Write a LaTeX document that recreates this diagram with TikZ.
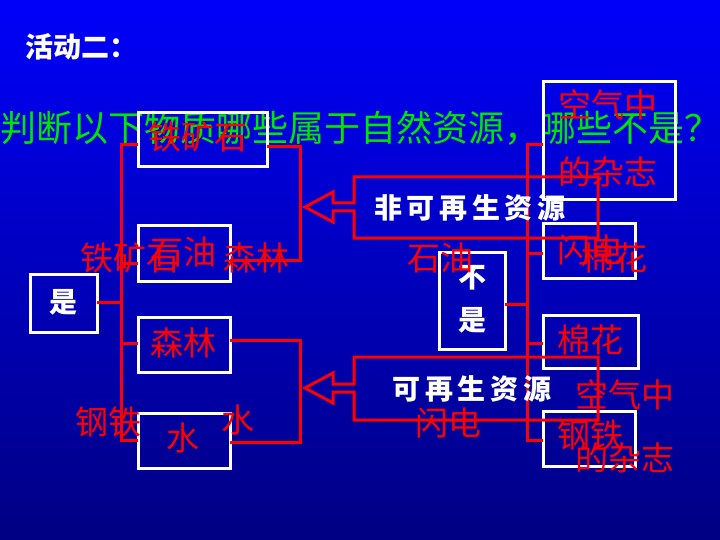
\documentclass[tikz,border=0pt]{standalone}
\usepackage{fontspec}
\newfontfamily\cjk{Noto Sans CJK SC}
\begin{document}
\begin{tikzpicture}[x=1pt,y=-1pt,
  wbox/.style={draw=white,line width=3pt},
  rl/.style={draw=red,line width=3pt},
  rt/.style={text=red,font=\cjk\fontsize{33}{33}\selectfont,inner sep=0pt},
  wt/.style={text=white,font=\cjk\bfseries\fontsize{28}{28}\selectfont,inner sep=0pt}]
\shade[top color={rgb,255:red,0;green,0;blue,250},bottom color={rgb,255:red,0;green,0;blue,130}] (0,0) rectangle (720,540);
\useasboundingbox (0,0) rectangle (720,540);
\node[wt,anchor=west] (title) at (25,47) {活动二：};
\node[text={rgb,255:red,0;green,230;blue,0},font=\cjk\fontsize{36}{36}\selectfont,inner sep=0pt] (q) at (360,128) {判断以下物质哪些属于自然资源，哪些不是？};
% left boxes
\draw[wbox] (30,274) rectangle (97,332);
\node[wt] (shi) at (63,302) {是};
\draw[wbox] (138,113) rectangle (267,167);
\draw[wbox] (138,226) rectangle (230,281);
\draw[wbox] (138,317) rectangle (230,372);
\draw[wbox] (138,413) rectangle (230,468);
% right boxes
\draw[wbox] (439,252) rectangle (505,349);
\node[wt] (bu) at (472,278) {不};
\node[wt] (shi2) at (472,320) {是};
\draw[wbox] (543,82) rectangle (675,200);
\draw[wbox] (543,224) rectangle (635,278);
\draw[wbox] (543,315) rectangle (638,368);
\draw[wbox] (543,411) rectangle (635,466);
% left bracket
\draw[rl] (97,302) -- (121,302);
\draw[rl] (138,145) -- (121,145) -- (121,440) -- (138,440);
\draw[rl] (121,263) -- (138,263);
\draw[rl] (121,343) -- (138,343);
% middle brackets
\draw[rl] (267,147) -- (300,147) -- (300,260) -- (230,260);
\draw[rl] (230,340) -- (300,340) -- (300,442) -- (230,442);
% right bracket
\draw[rl] (505,304) -- (527,304);
\draw[rl] (543,145) -- (527,145) -- (527,440) -- (543,440);
\draw[rl] (527,253) -- (543,253);
\draw[rl] (527,343) -- (543,343);
% arrows
\draw[rl,line join=miter] (305,207) -- (333,192) -- (333,203) -- (354,203) -- (354,177) -- (598,177) -- (598,238) -- (354,238) -- (354,211) -- (333,211) -- (333,222) -- cycle;
\node[wt] (fk) at (470,208) {非\,可\,再\,生\,资\,源};
\draw[rl,line join=miter] (305,388) -- (333,373) -- (333,384) -- (354,384) -- (354,357) -- (598,357) -- (598,420) -- (354,420) -- (354,392) -- (333,392) -- (333,403) -- cycle;
\node[wt] (kz) at (472,389) {可\,再\,生\,资\,源};
% red texts
\node[rt] (a1) at (198,137) {铁矿石};
\node[rt] (a2) at (130,258) {铁矿石};
\node[rt] (a3) at (183,252) {石油};
\node[rt] (a4) at (256,258) {森林};
\node[rt] (a5) at (183,343) {森林};
\node[rt] (a6) at (108,422) {钢铁};
\node[rt] (a7) at (183,438) {水};
\node[rt] (a8) at (238,420) {水};
\node[rt] (b1) at (440,258) {石油};
\node[rt] (b2) at (448,423) {闪电};
\node[rt] (c1) at (608,105) {空气中};
\node[rt] (c2) at (608,172) {的杂志};
\node[rt] (c3) at (590,250) {闪电};
\node[rt] (c4) at (614,258) {棉花};
\node[rt] (c5) at (590,340) {棉花};
\node[rt] (c6) at (625,395) {空气中};
\node[rt] (c7) at (590,435) {钢铁};
\node[rt] (c8) at (625,458) {的杂志};
\end{tikzpicture}
\end{document}
